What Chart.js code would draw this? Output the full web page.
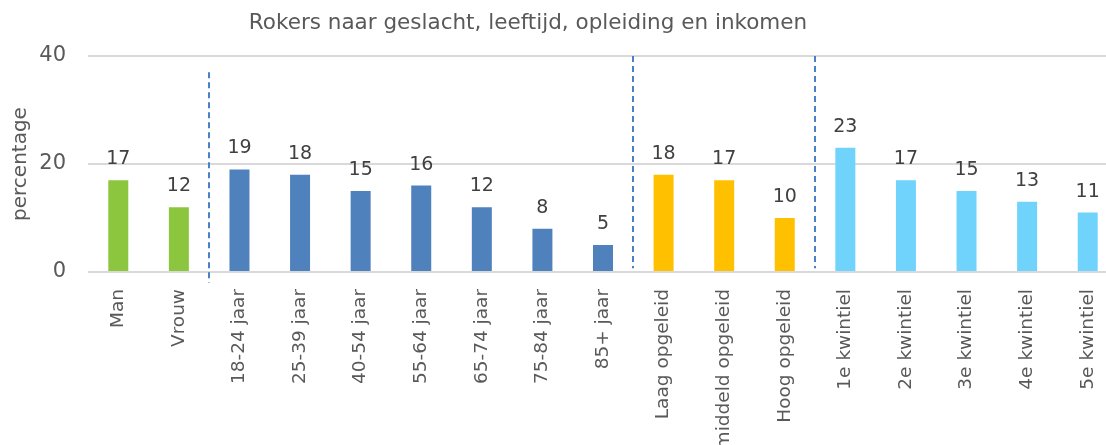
<!DOCTYPE html>
<html>
<head>
<meta charset="utf-8">
<script src="https://cdn.jsdelivr.net/npm/chart.js@4/dist/chart.umd.min.js"></script>
<style>
  html, body { margin: 0; padding: 0; background: #fff; overflow: hidden; }
  #wrap { width: 1118px; height: 445px; }
</style>
</head>
<body>
<div id="wrap"><canvas id="chart"></canvas></div>
<script>
// Rokers naar geslacht, leeftijd, opleiding en inkomen
const titleText = "Rokers naar geslacht, leeftijd, opleiding en inkomen";
const categories = [
  "Man", "Vrouw",
  "18-24 jaar", "25-39 jaar", "40-54 jaar", "55-64 jaar", "65-74 jaar", "75-84 jaar", "85+ jaar",
  "Laag opgeleid", "middeld opgeleid", "Hoog opgeleid",
  "1e kwintiel", "2e kwintiel", "3e kwintiel", "4e kwintiel", "5e kwintiel"
];
const values = [17, 12, 19, 18, 15, 16, 12, 8, 5, 18, 17, 10, 23, 17, 15, 13, 11];
const groups = [0, 0, 1, 1, 1, 1, 1, 1, 1, 2, 2, 2, 3, 3, 3, 3, 3];
const yTicks = [0, 20, 40];

const groupColors = ["#8CC63F", "#4F81BD", "#FFC000", "#70D3FC"];
const FONT = "'DejaVu Sans', Verdana, sans-serif";

// chart title, centred over the visible page width
const titlePlugin = {
  id: "pageTitle",
  afterDraw(chart) {
    const ctx = chart.ctx;
    ctx.save();
    ctx.font = "21.5px " + FONT;
    ctx.fillStyle = "#595959";
    ctx.textAlign = "center";
    ctx.textBaseline = "middle";
    ctx.fillText(titleText, 528, 23);
    ctx.restore();
  }
};

// value labels above each bar
const valueLabels = {
  id: "valueLabels",
  afterDatasetsDraw(chart) {
    const ctx = chart.ctx;
    const meta = chart.getDatasetMeta(0);
    ctx.save();
    ctx.font = "19px " + FONT;
    ctx.fillStyle = "#404040";
    ctx.textAlign = "center";
    ctx.textBaseline = "alphabetic";
    meta.data.forEach((bar, i) => {
      ctx.fillText(String(values[i]), bar.x, bar.y - 16);
    });
    ctx.restore();
  }
};

// dashed separators between groups
const separators = {
  id: "separators",
  afterDatasetsDraw(chart) {
    const ctx = chart.ctx;
    const xs = chart.scales.x, ys = chart.scales.y;
    ctx.save();
    ctx.strokeStyle = "#4A80C8";
    ctx.lineWidth = 2;
    ctx.setLineDash([6, 4]);
    let n = 0;
    for (let i = 0; i < groups.length - 1; i++) {
      if (groups[i] === groups[i + 1]) continue;
      const x = Math.round(xs.getPixelForValue(i + 0.5));
      const top = n === 0 ? ys.getPixelForValue(37) : ys.getPixelForValue(40);
      const bottom = n === 0 ? ys.getPixelForValue(-2) : ys.getPixelForValue(0.7);
      ctx.beginPath();
      ctx.moveTo(x, top);
      ctx.lineTo(x, bottom);
      ctx.stroke();
      n++;
    }
    ctx.restore();
  }
};

new Chart(document.getElementById("chart"), {
  type: "bar",
  data: {
    labels: categories,
    datasets: [{
      data: values,
      backgroundColor: groups.map(g => groupColors[g]),
      categoryPercentage: 1,
      barPercentage: 0.33
    }]
  },
  options: {
    responsive: true,
    maintainAspectRatio: false,
    animation: false,
    layout: { padding: { top: 56, left: 0, right: 0, bottom: 0 } },
    plugins: {
      legend: { display: false },
      tooltip: { enabled: false },
      title: { display: false }
    },
    scales: {
      x: {
        grid: { display: false, drawTicks: false },
        border: { display: false },
        ticks: {
          color: "#595959",
          font: { family: FONT, size: 18.5 },
          autoSkip: false,
          minRotation: 90,
          maxRotation: 90,
          padding: 17
        },
        afterFit(s) { s.height = 173; s.paddingLeft = 0; s.paddingRight = 0; }
      },
      y: {
        min: 0,
        max: 40,
        afterBuildTicks(s) { s.ticks = yTicks.map(v => ({ value: v })); },
        grid: { color: "#D9D9D9", lineWidth: 2, drawTicks: false },
        border: { display: false },
        ticks: {
          color: "#595959",
          font: { family: FONT, size: 21 },
          padding: 22
        },
        title: {
          display: true,
          text: "percentage",
          color: "#595959",
          font: { family: FONT, size: 20 },
          padding: { top: 9, bottom: 0 }
        },
        afterFit(s) { s.width = 88; s.paddingTop = 0; s.paddingBottom = 0; }
      }
    }
  },
  plugins: [separators, valueLabels, titlePlugin]
});
</script>
</body>
</html>
